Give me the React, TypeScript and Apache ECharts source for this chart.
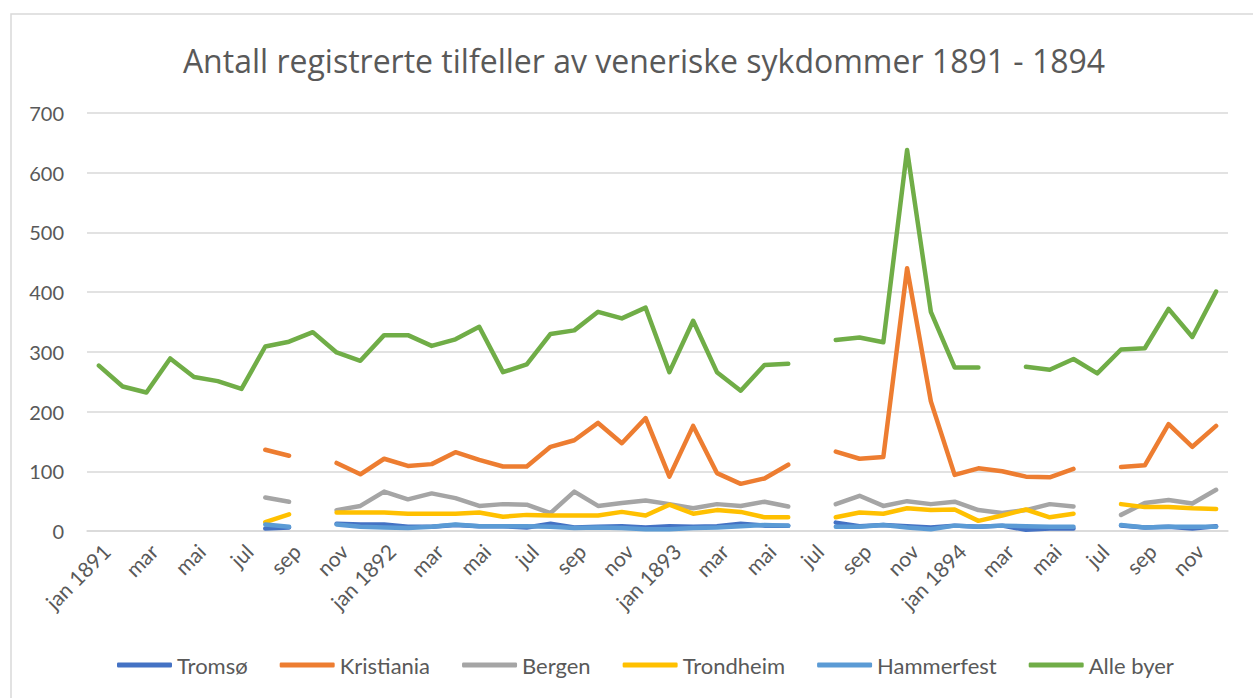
import React, { useEffect, useRef } from "react";
import * as echarts from "echarts";

const years = [1891, 1892, 1893, 1894];
const monthNames = ["jan", "feb", "mar", "apr", "mai", "jun", "jul", "aug", "sep", "okt", "nov", "des"];
const categories: string[] = [];
years.forEach((y) => monthNames.forEach((m, i) => categories.push(i === 0 ? `${m} ${y}` : m)));

const N = null;
const tromso = [N, N, N, N, N, N, N, 4, 6, N, 12, 11, 11, 7, 7, 10, 8, 8, 6, 12, 6, 7, 8, 6, 8, 7, 8, 12, 9, 9, N, 14, 8, 10, 8, 6, 9, 7, 9, 2, 4, 4, N, 9, 6, 7, 4, 8];
const kristiania = [N, N, N, N, N, N, N, 136, 126, N, 114, 95, 121, 109, 112, 132, 119, 108, 108, 141, 152, 181, 147, 189, 91, 176, 97, 79, 88, 111, N, 133, 121, 124, 440, 217, 94, 105, 100, 91, 90, 104, N, 107, 110, 179, 141, 176];
const bergen = [N, N, N, N, N, N, N, 56, 49, N, 35, 42, 66, 53, 63, 55, 42, 45, 44, 30, 66, 42, 47, 51, 45, 38, 45, 42, 49, 41, N, 45, 59, 42, 50, 45, 49, 35, 30, 35, 45, 41, N, 27, 47, 52, 46, 69];
const trondheim = [N, N, N, N, N, N, N, 15, 28, N, 31, 31, 31, 29, 29, 29, 31, 24, 27, 26, 26, 26, 32, 26, 44, 29, 35, 32, 23, 23, N, 23, 31, 29, 38, 35, 36, 17, 26, 36, 23, 29, N, 45, 40, 40, 38, 37];
const hammerfest = [N, N, N, N, N, N, N, 11, 7, N, 11, 7, 6, 5, 7, 11, 8, 8, 8, 7, 5, 6, 5, 3, 3, 5, 6, 8, 10, 9, N, 7, 7, 10, 6, 3, 9, 7, 9, 8, 7, 7, N, 10, 6, 7, 7, 7];
const alleByer = [277, 242, 232, 289, 258, 251, 238, 309, 317, 333, 299, 285, 328, 328, 310, 321, 342, 266, 279, 330, 336, 367, 356, 374, 266, 352, 266, 235, 278, 280, N, 320, 324, 316, 638, 367, 274, 274, N, 275, 270, 288, 264, 304, 306, 372, 325, 401];

const seriesDefs = [
  { name: "Tromsø", data: tromso, color: "#4472C4" },
  { name: "Kristiania", data: kristiania, color: "#ED7D31" },
  { name: "Bergen", data: bergen, color: "#A5A5A5" },
  { name: "Trondheim", data: trondheim, color: "#FFC000" },
  { name: "Hammerfest", data: hammerfest, color: "#5B9BD5" },
  { name: "Alle byer", data: alleByer, color: "#70AD47" },
];

const FONT = "Lato";
const TXT = "#595959";

export default function App() {
  const ref = useRef<HTMLDivElement>(null);
  useEffect(() => {
    if (!ref.current) return;
    const chart = echarts.init(ref.current, undefined, { renderer: "svg" });
    chart.setOption({
      animation: false,
      backgroundColor: "#ffffff",
      title: {
        text: "Antall registrerte tilfeller av veneriske sykdommer 1891 - 1894",
        left: 639,
        textAlign: "center",
        top: 39,
        textStyle: { fontFamily: "Open Sans", fontSize: 32, fontWeight: "normal", color: TXT },
      },
      graphic: [
        {
          type: "rect",
          shape: { x: 11, y: 14, width: 1260, height: 700 },
          style: { fill: "none", stroke: "#d9d9d9", lineWidth: 1.5 },
          silent: true,
        },
      ],
      grid: { left: 87, right: 25, top: 113, bottom: 167 },
      legend: {
        bottom: 17,
        left: 112,
        icon: "roundRect",
        itemWidth: 55,
        itemHeight: 5,
        itemGap: 32,
        textStyle: { fontFamily: FONT, fontSize: 22, color: TXT },
        data: seriesDefs.map((s) => s.name),
      },
      xAxis: {
        type: "category",
        data: categories,
        boundaryGap: true,
        axisLine: { lineStyle: { color: "#d9d9d9", width: 1.5 } },
        axisTick: { show: false },
        axisLabel: {
          interval: 1,
          rotate: 45,
          margin: 9,
          verticalAlign: "top",
          fontFamily: FONT,
          fontSize: 21,
          color: TXT,
        },
      },
      yAxis: {
        type: "value",
        min: 0,
        max: 700,
        interval: 100,
        axisLine: { show: false },
        axisTick: { show: false },
        splitLine: { lineStyle: { color: "#d9d9d9", width: 1.5 } },
        axisLabel: { fontFamily: FONT, fontSize: 20, color: TXT, margin: 23 },
      },
      series: seriesDefs.map((s) => ({
        name: s.name,
        type: "line",
        data: s.data,
        connectNulls: false,
        showSymbol: false,
        symbol: "none",
        color: s.color,
        lineStyle: { color: s.color, width: 4.5, cap: "round", join: "round" },
      })),
    });
    return () => chart.dispose();
  }, []);
  return (
    <div
      ref={ref}
      style={{ position: "fixed", left: 0, top: 0, width: 1253, height: 698 }}
    />
  );
}
